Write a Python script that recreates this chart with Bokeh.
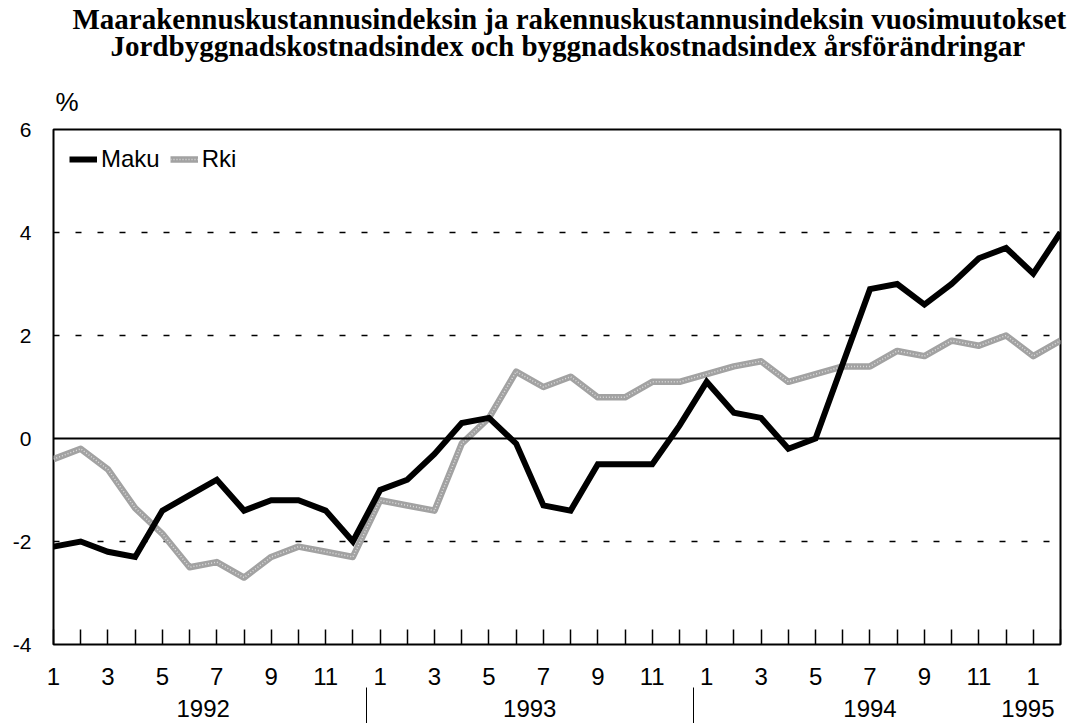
from bokeh.plotting import figure
from bokeh.models import Range1d, FixedTicker, LinearAxis, Span, Legend, LegendItem, Title
from bokeh.embed import file_html
from bokeh.resources import INLINE

# ---------------- data ----------------
title_fi = "Maarakennuskustannusindeksin ja rakennuskustannusindeksin vuosimuutokset"
title_sv = "Jordbyggnadskostnadsindex och byggnadskostnadsindex årsförändringar"
unit_label = "%"

months = list(range(1, 13)) * 3 + [1, 2]          # Jan 1992 .. Feb 1995
maku = [-2.1, -2.0, -2.2, -2.3, -1.4, -1.1, -0.8, -1.4, -1.2, -1.2, -1.4, -2.0,
        -1.0, -0.8, -0.3, 0.3, 0.4, -0.1, -1.3, -1.4, -0.5, -0.5, -0.5, 0.25,
        1.1, 0.5, 0.4, -0.2, 0.0, 1.45, 2.9, 3.0, 2.6, 3.0, 3.5, 3.7, 3.2, 4.0]
rki = [-0.4, -0.2, -0.6, -1.35, -1.85, -2.5, -2.4, -2.7, -2.3, -2.1, -2.2, -2.3,
       -1.2, -1.3, -1.4, -0.1, 0.4, 1.3, 1.0, 1.2, 0.8, 0.8, 1.1, 1.1,
       1.25, 1.4, 1.5, 1.1, 1.25, 1.4, 1.4, 1.7, 1.6, 1.9, 1.8, 2.0, 1.6, 1.9]
y_ticks = [-4, -2, 0, 2, 4, 6]
grid_levels = [-2, 2, 4]
year_labels = ["1992", "1993", "1994", "1995"]
year_centres = [5.5, 17.5, 30.0, 35.8]
year_breaks = [11.5, 23.5]

x = list(range(len(months)))

FONT = "Liberation Sans"
SERIF = "Liberation Serif"

p = figure(frame_width=1007, frame_height=515,
           x_range=Range1d(0, len(months) - 1), y_range=Range1d(y_ticks[0], y_ticks[-1]),
           output_backend="svg", toolbar_location=None, title=None,
           min_border_left=53, min_border_right=8, min_border_top=0, min_border_bottom=79)
p.background_fill_color = "white"
p.border_fill_color = "white"
p.outline_line_color = "black"
p.outline_line_width = 2

# y axis
ya = p.yaxis[0]
ya.ticker = FixedTicker(ticks=y_ticks)
ya.major_label_overrides = {t: str(t) for t in y_ticks}
ya.major_label_text_font = FONT
ya.major_label_text_font_size = "21px"
ya.major_label_text_color = "black"
ya.major_label_standoff = 22
ya.major_tick_out = 0
ya.major_tick_in = 0
ya.minor_tick_out = 0
ya.minor_tick_in = 0
ya.axis_line_color = None

# month axis
xa = p.xaxis[0]
xa.ticker = FixedTicker(ticks=x)
xa.major_label_overrides = {i: (str(m) if m % 2 == 1 else "") for i, m in enumerate(months)}
xa.major_label_text_font = FONT
xa.major_label_text_font_size = "24px"
xa.major_label_text_color = "black"
xa.major_label_standoff = 23
xa.major_tick_in = 15
xa.major_tick_out = 0
xa.major_tick_line_width = 1.5
xa.major_tick_line_color = "black"
xa.minor_tick_out = 0
xa.minor_tick_in = 0
xa.axis_line_color = None

# year axis (labels + separators as minor ticks)
yr = LinearAxis(ticker=FixedTicker(ticks=year_centres, minor_ticks=year_breaks),
                major_label_overrides={c: l for c, l in zip(year_centres, year_labels)})
yr.major_label_text_font = FONT
yr.major_label_text_font_size = "24px"
yr.major_label_text_color = "black"
yr.major_label_standoff = -28
yr.major_tick_in = 0
yr.major_tick_out = 0
yr.major_tick_line_color = None
yr.minor_tick_in = 0
yr.minor_tick_out = 40
yr.minor_tick_line_color = "black"
yr.minor_tick_line_width = 1
yr.axis_line_color = None
p.add_layout(yr, "below")

# grid
p.xgrid.visible = False
p.ygrid[0].ticker = FixedTicker(ticks=grid_levels)
p.ygrid[0].grid_line_color = "black"
p.ygrid[0].grid_line_width = 1.5
p.ygrid[0].grid_line_dash = "6 16"
p.add_layout(Span(location=0, dimension="width", line_color="black", line_width=2))

# lines
r_rki = p.line(x, rki, line_color="#a2a2a2", line_width=6.5, line_join="round")
r_rki2 = p.line(x, rki, line_color="#dcdcdc", line_width=1.5, line_dash="1 2")
r_maku = p.line(x, maku, line_color="black", line_width=6, line_join="miter")

legend = Legend(items=[LegendItem(label="Maku", renderers=[r_maku]),
                       LegendItem(label="Rki", renderers=[r_rki, r_rki2])],
                location="top_left", orientation="horizontal",
                label_text_font=FONT, label_text_font_size="24px",
                label_text_color="black",
                glyph_width=28, glyph_height=20, label_standoff=4, spacing=10,
                padding=0, margin=16, border_line_color=None,
                background_fill_alpha=0)
p.add_layout(legend)

# titles (added nearest-first)
p.add_layout(Title(text=unit_label, align="left", offset=2, standoff=25,
                   text_font=FONT, text_font_size="26px", text_font_style="normal",
                   text_color="black"), "above")
p.add_layout(Title(text=" ", align="left", standoff=0,
                   text_font=FONT, text_font_size="14px"), "above")
p.add_layout(Title(text=title_sv, align="left", offset=57, standoff=-14,
                   text_font=SERIF, text_font_size="29px", text_font_style="bold",
                   text_color="black"), "above")
p.add_layout(Title(text=title_fi, align="left", offset=19, standoff=0,
                   text_font=SERIF, text_font_size="29px", text_font_style="bold",
                   text_color="black"), "above")

open("out.html", "w").write(file_html(p, INLINE))
